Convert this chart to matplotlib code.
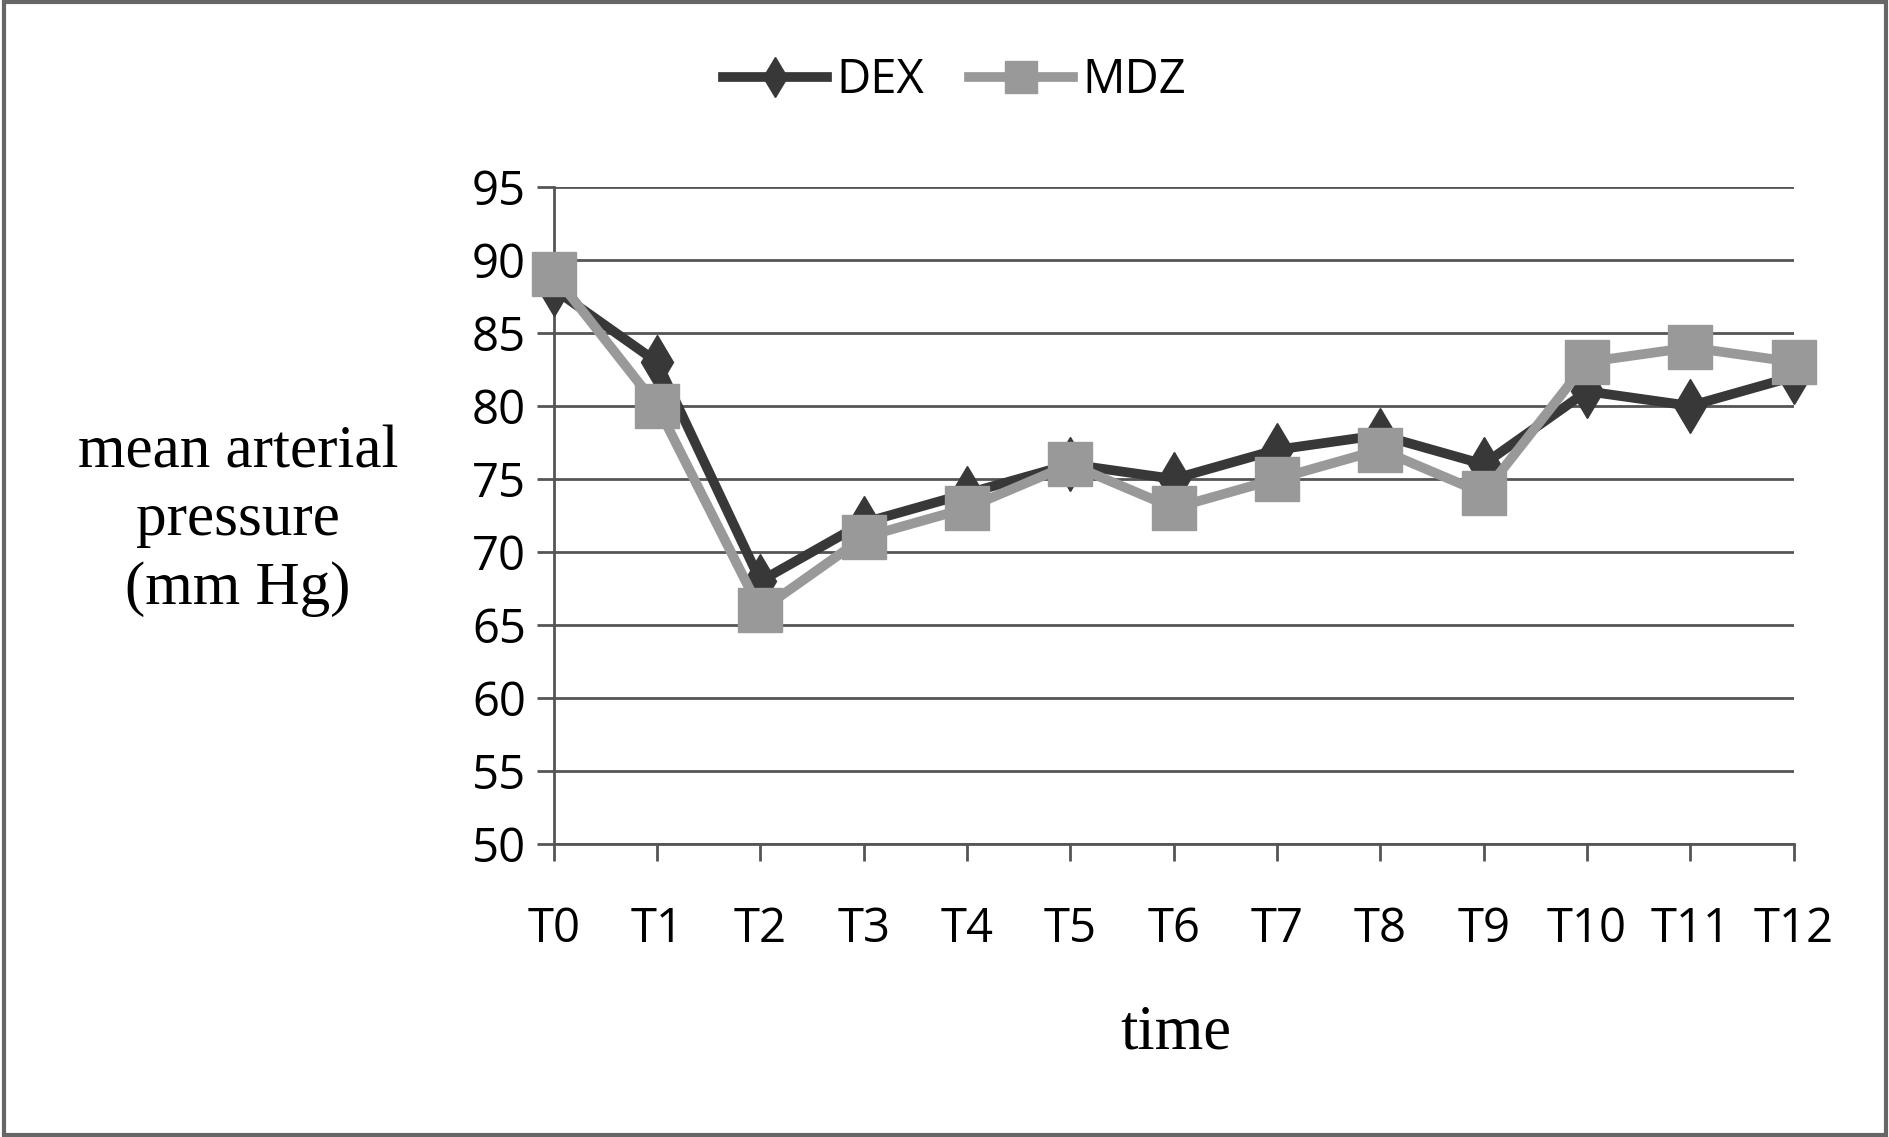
import matplotlib.pyplot as plt
from matplotlib.patches import Rectangle

times = ['T0', 'T1', 'T2', 'T3', 'T4', 'T5', 'T6', 'T7', 'T8', 'T9', 'T10', 'T11', 'T12']
dex = [88, 83, 68, 72, 74, 76, 75, 77, 78, 76, 81, 80, 82]
mdz = [89, 80, 66, 71, 73, 76, 73, 75, 77, 74, 83, 84, 83]
yticks = [50, 55, 60, 65, 70, 75, 80, 85, 90, 95]

fig = plt.figure(figsize=(18.9, 11.37), dpi=100)
ax = fig.add_axes([0.293, 0.2577, 0.656, 0.578])

x = range(len(times))
ax.plot(x, dex, color='#383838', lw=7, marker='d', markersize=27, label='DEX',
        zorder=3, clip_on=False)
ax.plot(x, mdz, color='#999999', lw=7, marker='s', markersize=31, label='MDZ',
        zorder=4, clip_on=False)

ax.set_xlim(0, 12)
ax.set_ylim(50, 95)
ax.set_yticks(yticks)
ax.set_xticks(list(x))
ax.set_xticklabels(times)
ax.grid(axis='y', color='#555555', lw=2)
ax.set_axisbelow(True)
for s in ['top', 'right']:
    ax.spines[s].set_visible(False)
for s in ['left', 'bottom']:
    ax.spines[s].set_color('#555555')
    ax.spines[s].set_linewidth(2)
ax.tick_params(axis='both', direction='out', length=12, width=2, color='#555555',
               labelsize=34, pad=8)
ax.tick_params(axis='x', pad=32)
for lab in ax.get_xticklabels() + ax.get_yticklabels():
    lab.set_family('Open Sans')

fig.text(0.126, 0.542, 'mean arterial\npressure\n(mm Hg)', ha='center', va='center',
         family='Liberation Serif', fontsize=44, linespacing=1.3)
fig.text(0.622, 0.091, 'time', ha='center', va='center', family='Liberation Serif', fontsize=45)

leg = ax.legend(loc='center', bbox_to_anchor=(0.505, 0.929), bbox_transform=fig.transFigure,
                ncol=2, frameon=False, prop={'family': 'Open Sans', 'size': 34},
                handlelength=2.2, columnspacing=0.95, handletextpad=0.2, markerscale=0.75)

fig.patches.append(Rectangle((0.002, 0.002), 0.996, 0.996, transform=fig.transFigure,
                             fill=False, edgecolor='#666666', lw=3))

fig.savefig('out.png', dpi=100)
